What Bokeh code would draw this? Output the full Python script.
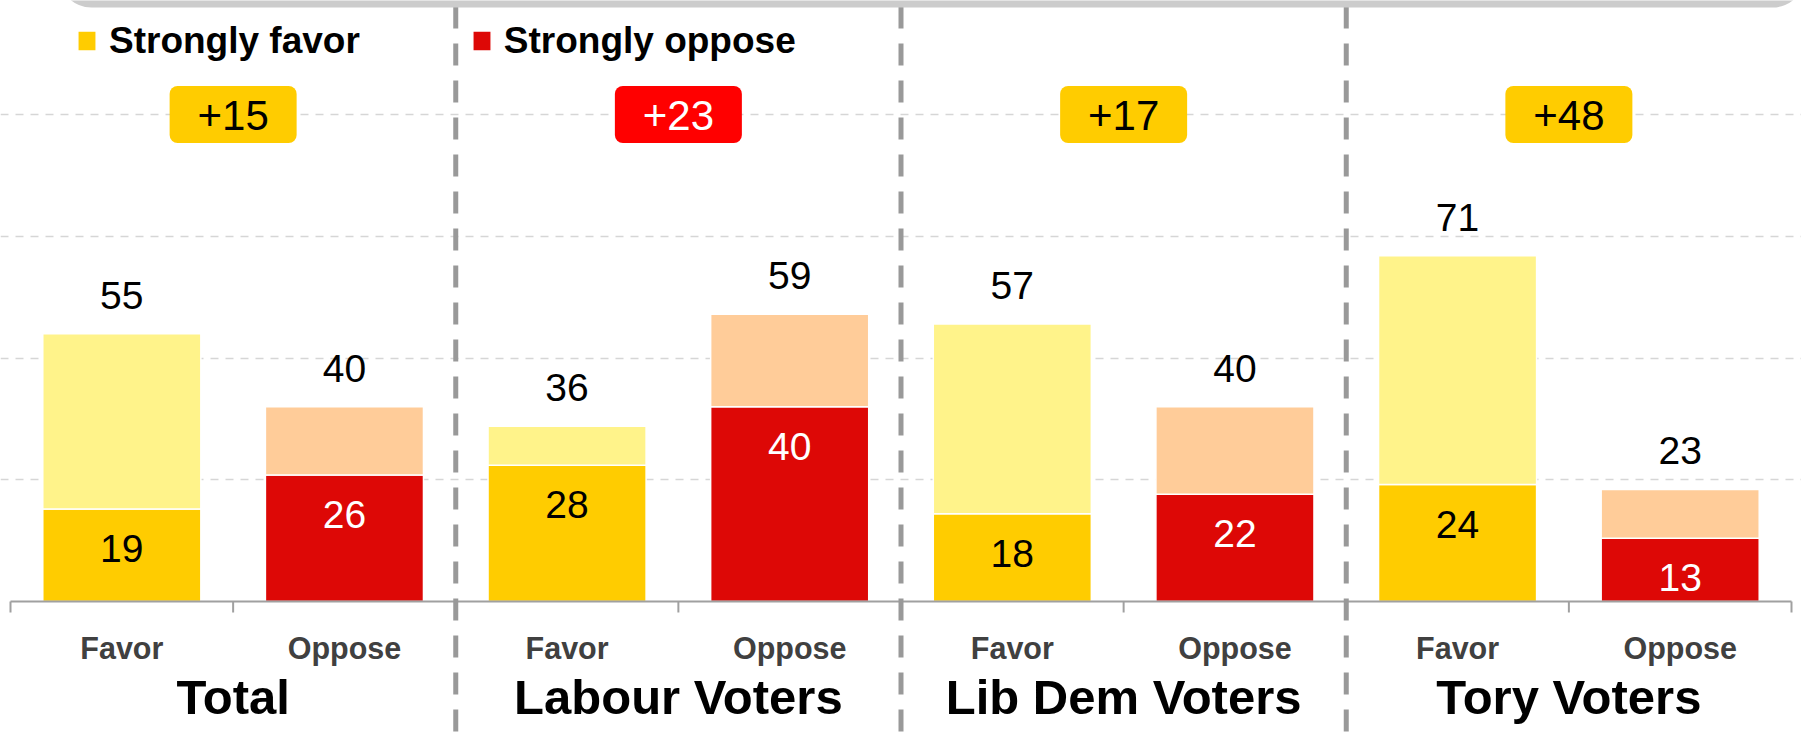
from bokeh.plotting import figure
from bokeh.models import (FactorRange, Range1d, ColumnDataSource, Span, Grid, FixedTicker,
                          BoxAnnotation, Legend, LegendItem)
from bokeh.core.properties import value
from bokeh.embed import file_html
from bokeh.resources import INLINE

# ---------------- data ----------------
groups = ["Total", "Labour Voters", "Lib Dem Voters", "Tory Voters"]
answers = ["Favor", "Oppose"]
favor_total = [55, 36, 57, 71]
favor_strong = [19, 28, 18, 24]
oppose_total = [40, 59, 40, 23]
oppose_strong = [26, 40, 22, 13]
legend_labels = ["Strongly favor", "Strongly oppose"]
grid_ticks = [25, 50, 75, 100]
badge_level = 100

# ---------------- style ----------------
FONT_NAME = "Liberation Sans"
FONT = value(FONT_NAME)
FAV_DARK, FAV_LIGHT = "#FFCC00", "#FFF38A"
OPP_DARK, OPP_LIGHT = "#DD0806", "#FFCC99"
BADGE_RED = "#FF0000"
AXIS_C = "#A0A0A0"

W, H = 1801, 733
BASE_PX = 601      # screen y of value 0
PPU = 4.87         # pixels per unit
SIDE_PX = 10       # gap left/right of the category axis
BAR_W = 0.71

factors = [(g, a) for g in groups for a in answers]
n = len(factors)
px_per_cat = (W - 2 * SIDE_PX) / n
pad = SIDE_PX / px_per_cat          # absolute padding, applied on each side

x_range = FactorRange(factors=factors, factor_padding=0, group_padding=0,
                      range_padding=pad, range_padding_units="absolute")
y_range = Range1d(start=-(H - BASE_PX) / PPU, end=BASE_PX / PPU)

p = figure(width=W, height=H, x_range=x_range, y_range=y_range,
           output_backend="svg", toolbar_location=None,
           x_axis_location=None, y_axis_location=None, min_border=0,
           outline_line_color=None,
           styles={"position": "absolute", "left": "0px", "top": "0px"})
for g in list(p.grid):
    g.visible = False

p.add_layout(Grid(dimension=1, ticker=FixedTicker(ticks=grid_ticks),
                  grid_line_color="#D6D6D6", grid_line_width=1.5,
                  grid_line_dash="8 7"))

fav_src = ColumnDataSource(dict(
    x=[(g, "Favor") for g in groups], strong=favor_strong, total=favor_total,
    strong_lbl=[str(v) for v in favor_strong], total_lbl=[str(v) for v in favor_total]))
opp_src = ColumnDataSource(dict(
    x=[(g, "Oppose") for g in groups], strong=oppose_strong, total=oppose_total,
    strong_lbl=[str(v) for v in oppose_strong], total_lbl=[str(v) for v in oppose_total]))

r_fav = p.vbar(x="x", bottom=0, top="strong", width=BAR_W, source=fav_src,
               fill_color=FAV_DARK, line_color="white", line_width=1.5)
p.vbar(x="x", bottom="strong", top="total", width=BAR_W, source=fav_src,
       fill_color=FAV_LIGHT, line_color="white", line_width=1.5)
r_opp = p.vbar(x="x", bottom=0, top="strong", width=BAR_W, source=opp_src,
               fill_color=OPP_DARK, line_color="white", line_width=1.5)
p.vbar(x="x", bottom="strong", top="total", width=BAR_W, source=opp_src,
       fill_color=OPP_LIGHT, line_color="white", line_width=1.5)

for src, col in ((fav_src, "black"), (opp_src, "white")):
    p.text(x="x", y="strong", text="strong_lbl", source=src, y_offset=39.5,
           text_align="center", text_baseline="alphabetic", text_font=FONT,
           text_font_size="39px", text_color=col)
    p.text(x="x", y="total", text="total_lbl", source=src, y_offset=-38.5,
           text_align="center", text_baseline="alphabetic", text_font=FONT,
           text_font_size="39px", text_color="black")

# category axis drawn in the frame so the group separators can run through it
p.segment(x0=[0], y0=[0], x1=[n], y1=[0], line_color=AXIS_C, line_width=2)
bounds = list(range(n + 1))
p.segment(x0=bounds, y0=[0] * len(bounds), x1=bounds, y1=[-11 / PPU] * len(bounds),
          line_color=AXIS_C, line_width=2)
p.text(x=factors, y=[0] * n, text=[a for _, a in factors], y_offset=46.5,
       text_align="center", text_baseline="alphabetic", text_font=FONT,
       text_font_size="30.5px", text_font_style="bold", text_color="#404040")
p.text(x=groups, y=[0] * len(groups), text=groups, y_offset=95.5,
       text_align="center", text_baseline="alphabetic", text_font=FONT,
       text_font_size="49px", text_font_style="bold", text_color="black")

# net badges
net = [f - o for f, o in zip(favor_total, oppose_total)]
badge_src = ColumnDataSource(dict(
    x=groups, y=[badge_level] * len(groups),
    txt=["+%d" % abs(d) for d in net],
    fill=[FAV_DARK if d >= 0 else BADGE_RED for d in net],
    tc=["black" if d >= 0 else "white" for d in net]))
p.rect(x="x", y="y", width=127, height=57, width_units="screen", height_units="screen",
       source=badge_src, fill_color="fill", line_color=None, border_radius=8)
p.text(x="x", y="y", text="txt", source=badge_src, y_offset=1,
       text_align="center", text_baseline="alphabetic", text_font=FONT,
       text_font_size="42px", text_color="tc")

# group separators
for k in range(2, n, 2):
    p.add_layout(Span(location=k, dimension="height", line_color="#999999",
                      line_width=5, line_dash="22 15", line_dash_offset=31))

# grey banner at the top (only its rounded lower edge is in view)
p.add_layout(BoxAnnotation(left=(58 - SIDE_PX) / px_per_cat,
                           right=(1805 - SIDE_PX) / px_per_cat,
                           bottom=y_range.end - 7 / PPU, top=y_range.end + 150 / PPU,
                           fill_color="#CCCCCC", fill_alpha=1, line_alpha=0,
                           border_radius=33))

legend = Legend(items=[LegendItem(label=legend_labels[0], renderers=[r_fav]),
                       LegendItem(label=legend_labels[1], renderers=[r_opp])],
                orientation="horizontal", location=(75, H - 61.5),
                glyph_width=23, glyph_height=25, label_standoff=11, spacing=110,
                padding=0, margin=0, border_line_color=None, background_fill_alpha=0,
                label_text_font=FONT_NAME, label_text_font_size="37px",
                label_text_font_style="bold", label_text_color="black")
p.add_layout(legend)

open("out.html", "w").write(file_html(p, INLINE))
